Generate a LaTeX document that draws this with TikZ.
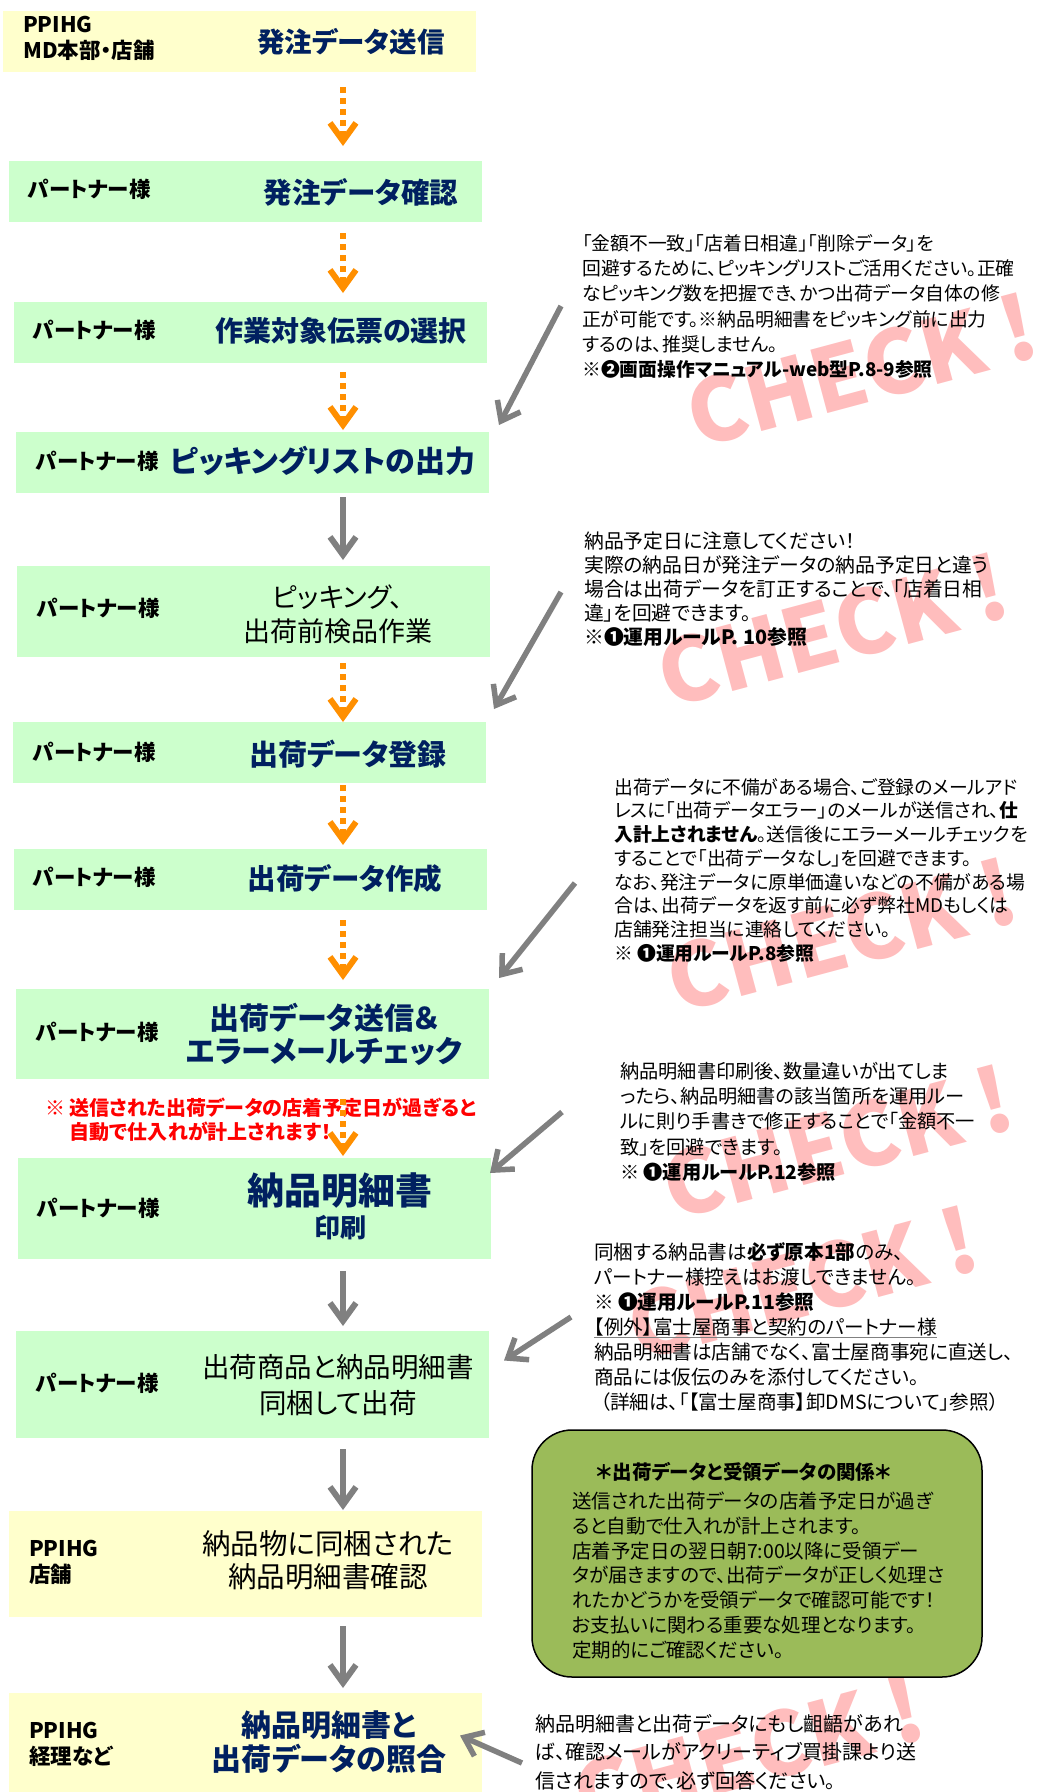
\documentclass[tikz,border=0pt]{standalone}
\usepackage{fontspec}
\setmainfont[RawFeature={+palt}]{Noto Sans CJK JP}
\usetikzlibrary{arrows.meta,calc,positioning}
\definecolor{navy}{HTML}{002060}
\definecolor{ylw}{HTML}{FFFFCC}
\definecolor{grn}{HTML}{CCFFCC}
\definecolor{orng}{HTML}{FF8F00}
\definecolor{olive}{HTML}{9BBB59}
\definecolor{pinkmark}{HTML}{FFBDBD}
\definecolor{arrowgray}{HTML}{808080}
\newcommand{\grayline}[1]{\setbox0\hbox{#1}\rlap{\color{arrowgray}\rule[-4pt]{\wd0}{1.2pt}}\box0}
\tikzset{
  box/.style={rectangle, anchor=north west, inner sep=0pt, outer sep=0pt},
  ybox/.style={box, fill=ylw},
  gbox/.style={box, fill=grn},
  who/.style={anchor=west, align=left, inner sep=0pt, font=\bfseries\fontsize{21.5}{26}\selectfont},
  ttl/.style={align=center, inner sep=0pt, text=navy, font=\bfseries\fontsize{28.5}{32}\selectfont},
  plain/.style={align=center, inner sep=0pt, font=\fontsize{27}{34}\selectfont},
  note/.style={anchor=north west, align=left, inner sep=0pt},
  checkmark/.style={text=pinkmark, rotate=15, inner sep=0pt, font=\bfseries\fontsize{88}{88}\selectfont},
  dotarrow/.style={orng, line width=6pt, dash pattern=on 6pt off 5pt,
    -{Straight Barb[length=18pt, width=26pt]}},
  grayarrow/.style={arrowgray, line width=6pt, -{Straight Barb[length=18pt, width=26pt]}},
  slantarrow/.style={arrowgray, line width=5.5pt, -{Straight Barb[length=17pt, width=26pt]}}
}

\begin{document}
\begin{tikzpicture}[x=1pt, y=-1pt]
\useasboundingbox (0,0) rectangle (1040,1792);

% watermarks behind everything
\foreach \cx/\cy [count=\i] in {862/370, 833/630, 842/935, 838/1142, 803/1283, 749/1752}
  \node[checkmark] (chk\i) at (\cx,\cy) {CHECK !};

% flow boxes
\node[ybox, minimum width=473pt, minimum height=61pt] (b1) at (3,11) {};
\node[gbox, minimum width=473pt, minimum height=61pt] (b2) at (9,161) {};
\node[gbox, minimum width=473pt, minimum height=61pt] (b3) at (14,302) {};
\node[gbox, minimum width=473pt, minimum height=61pt] (b4) at (16,432) {};
\node[gbox, minimum width=473pt, minimum height=91pt] (b5) at (17,566) {};
\node[gbox, minimum width=473pt, minimum height=61pt] (b6) at (13,722) {};
\node[gbox, minimum width=473pt, minimum height=61pt] (b7) at (14,849) {};
\node[gbox, minimum width=473pt, minimum height=90pt] (b8) at (16,989) {};
\node[gbox, minimum width=473pt, minimum height=101pt] (b9) at (18,1158) {};
\node[gbox, minimum width=473pt, minimum height=107pt] (b10) at (16,1331) {};
\node[ybox, minimum width=473pt, minimum height=106pt] (b11) at (9,1511) {};
\node[ybox, minimum width=473pt, minimum height=99pt] (b12) at (9,1693) {};

% who does it
\node[who] (w1) at (23,38) {PPIHG\\MD本部・店舗};
\node[who] (w2) at (28,189) {パートナー様};
\node[who] (w3) at (33,330) {パートナー様};
\node[who] (w4) at (36,461) {パートナー様};
\node[who] (w5) at (37,608) {パートナー様};
\node[who] (w6) at (33,752) {パートナー様};
\node[who] (w7) at (33,877) {パートナー様};
\node[who] (w8) at (36,1032) {パートナー様};
\node[who] (w9) at (37,1208) {パートナー様};
\node[who] (w10) at (36,1383) {パートナー様};
\node[who] (w11) at (29,1562) {PPIHG\\店舗};
\node[who] (w12) at (29,1744) {PPIHG\\経理など};

% what is done
\node[ttl, font=\bfseries\fontsize{27.5}{32}\selectfont] (t1) at (351,42) {発注データ送信};
\node[ttl] (t2) at (361,192) {発注データ確認};
\node[ttl, font=\bfseries\fontsize{28}{32}\selectfont] (t3) at (341,331) {作業対象伝票の選択};
\node[ttl, font=\bfseries\fontsize{30}{32}\selectfont] (t4) at (323,461) {ピッキングリストの出力};
\node[plain] (t5) at (338,614) {ピッキング、\\出荷前検品作業};
\node[ttl, font=\bfseries\fontsize{29}{32}\selectfont] (t6) at (348,754) {出荷データ登録};
\node[ttl] (t7) at (345,879) {出荷データ作成};
\node[ttl, font=\bfseries\fontsize{30}{33}\selectfont] (t8) at (324,1034) {出荷データ送信＆\\エラーメールチェック};
\node[ttl, font=\bfseries\fontsize{37}{38}\selectfont] (t9) at (340,1190) {納品明細書};
\node[ttl, font=\bfseries\fontsize{26}{30}\selectfont] (t9b) at (340,1228) {印刷};
\node[plain, font=\fontsize{27.5}{36}\selectfont] (t10) at (338,1385) {出荷商品と納品明細書\\同梱して出荷};
\node[plain, font=\fontsize{28.5}{33}\selectfont] (t11) at (328,1560) {納品物に同梱された\\納品明細書確認};
\node[ttl, font=\bfseries\fontsize{30}{34}\selectfont] (t12) at (329,1742) {納品明細書と\\出荷データの照合};

% red warning
\node[note, text=red, font=\bfseries\fontsize{20}{24}\selectfont] (warn) at (45,1098)
  {※ 送信された出荷データの店着予定日が過ぎると\\\phantom{※ }自動で仕入れが計上されます！};

% flow arrows
\coordinate (col) at (343,0);
\draw[dotarrow] ($(b1.south -| col)+(0,15)$) -- ($(b2.north -| col)+(0,-15)$);
\draw[dotarrow] ($(b2.south -| col)+(0,11)$) -- ($(b3.north -| col)+(0,-9)$);
\draw[dotarrow] ($(b3.south -| col)+(0,9)$) -- ($(b4.north -| col)+(0,-2)$);
\draw[grayarrow] ($(b4.south -| col)+(0,4)$) -- ($(b5.north -| col)+(0,-6)$);
\draw[dotarrow] ($(b5.south -| col)+(0,6)$) -- ($(b6.north -| col)+(0,0)$);
\draw[dotarrow] ($(b6.south -| col)+(0,2)$) -- ($(b7.north -| col)+(0,-4)$);
\draw[dotarrow] ($(b7.south -| col)+(0,10)$) -- ($(b8.north -| col)+(0,-9)$);
\draw[dotarrow] ($(b8.south -| col)+(0,20)$) -- ($(b9.north -| col)+(0,-2)$);
\draw[grayarrow] ($(b9.south -| col)+(0,12)$) -- ($(b10.north -| col)+(0,-5)$);
\draw[grayarrow] ($(b10.south -| col)+(0,11)$) -- ($(b11.north -| col)+(0,-1)$);
\draw[grayarrow] ($(b11.south -| col)+(0,9)$) -- ($(b12.north -| col)+(0,-5)$);

% notes on the right
\node[note, font=\fontsize{18.8}{25.3}\selectfont] (n1) at (582,234)
  {「金額不一致」「店着日相違」「削除データ」を\\回避するために、ピッキングリストご活用ください。正確\\なピッキング数を把握でき、かつ出荷データ自体の修\\正が可能です。※納品明細書をピッキング前に出力\\するのは、推奨しません。\\※\textbf{❷画面操作マニュアル-web型P.8-9参照}};
\node[note, font=\fontsize{19.8}{23.8}\selectfont] (n2) at (584,532)
  {納品予定日に注意してください！\\実際の納品日が発注データの納品予定日と違う\\場合は出荷データを訂正することで、「店着日相\\違」を回避できます。\\※\textbf{❶運用ルールP. 10参照}};
\node[note, font=\fontsize{18.8}{23.7}\selectfont] (n3) at (614,778)
  {出荷データに不備がある場合、ご登録のメールアド\\レスに「出荷データエラー」のメールが送信され、\textbf{仕}\\\textbf{入計上されません}。送信後にエラーメールチェックを\\することで「出荷データなし」を回避できます。\\なお、発注データに原単価違いなどの不備がある場\\合は、出荷データを返す前に必ず弊社MDもしくは\\店舗発注担当に連絡してください。\\※ \textbf{❶運用ルールP.8参照}};
\node[note, font=\fontsize{19.2}{25.2}\selectfont] (n4) at (620,1062)
  {納品明細書印刷後、数量違いが出てしま\\ったら、納品明細書の該当箇所を運用ルー\\ルに則り手書きで修正することで「金額不一\\致」を回避できます。\\※ \textbf{❶運用ルールP.12参照}};
\node[note, font=\fontsize{19.6}{25}\selectfont] (n5) at (594,1242)
  {同梱する納品書は\textbf{必ず原本1部}のみ、\\パートナー様控えはお渡しできません。\\※ \textbf{❶運用ルールP.11参照}\\\grayline{【例外】富士屋商事と契約のパートナー様}\\納品明細書は店舗でなく、富士屋商事宛に直送し、\\商品には仮伝のみを添付してください。\\\hspace*{6pt}（詳細は、「【富士屋商事】卸DMSについて」参照）};
\node[note, font=\fontsize{20}{28.5}\selectfont] (n6) at (535,1714)
  {納品明細書と出荷データにもし齟齬があれ\\ば、確認メールがアクリーティブ買掛課より送\\信されますので、必ず回答ください。};

% relation box
\node[box, draw=black, line width=1.5pt, fill=olive, rounded corners=40pt,
  minimum width=450pt, minimum height=247pt] (rel) at (532,1430) {};
\node[inner sep=0pt, font=\bfseries\fontsize{19.5}{24}\selectfont] (relt) at (744,1472) {＊出荷データと受領データの関係＊};
\node[note, font=\fontsize{19.5}{24.7}\selectfont] (relb) at (572,1492)
  {送信された出荷データの店着予定日が過ぎ\\ると自動で仕入れが計上されます。\\店着予定日の翌日朝7:00以降に受領デー\\タが届きますので、出荷データが正しく処理さ\\れたかどうかを受領データで確認可能です！\\お支払いに関わる重要な処理となります。\\定期的にご確認ください。};

% pointers from notes to steps
\coordinate (p1) at (561,306);
\coordinate (p2) at (561,592);
\coordinate (p3) at (575,883);
\coordinate (p4) at (562,1112);
\coordinate (p5) at (571,1317);
\coordinate (p6) at (522,1763);
\draw[slantarrow] (p1) -- ($(b4.north east)+(10,-7)$);
\draw[slantarrow] (p2) -- ($(b6.north east)+(8,-13)$);
\draw[slantarrow] (p3) -- ($(b8.north east)+(10,-11)$);
\draw[slantarrow] (p4) -- ($(b9.north east)+(-1,15)$);
\draw[slantarrow] (p5) -- ($(b10.east)+(15,-24)$);
\draw[slantarrow] (p6) -- ($(b12.east)+(-22,-7)$);

\end{tikzpicture}
\end{document}
